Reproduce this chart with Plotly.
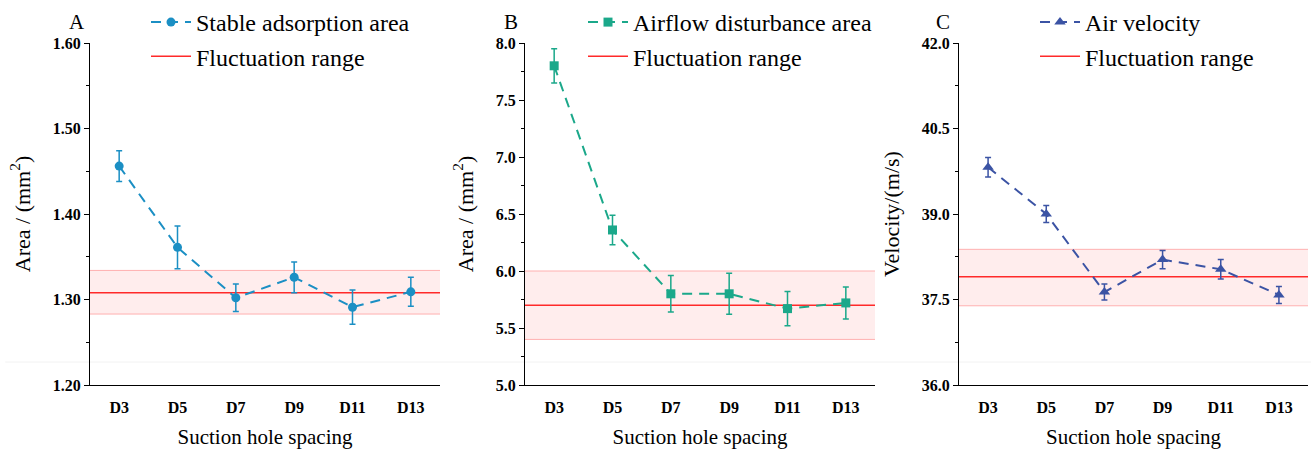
import plotly.graph_objects as go

categories = ["D3", "D5", "D7", "D9", "D11", "D13"]
x_pos = [0, 1, 2, 3, 4, 5]

stable_area = [1.456, 1.361, 1.302, 1.326, 1.291, 1.309]
stable_err = [0.018, 0.025, 0.016, 0.018, 0.020, 0.017]
stable_band = [1.283, 1.308, 1.334]  # low, mean, high

airflow_area = [7.80, 6.36, 5.80, 5.80, 5.67, 5.72]
airflow_err = [0.15, 0.13, 0.16, 0.18, 0.15, 0.14]
airflow_band = [5.40, 5.70, 6.00]

velocity = [39.82, 39.00, 37.63, 38.20, 38.03, 37.58]
velocity_err = [0.17, 0.15, 0.14, 0.16, 0.17, 0.15]
velocity_band = [37.39, 37.90, 38.38]

W, H = 1311, 454
FONT = "'Times New Roman', 'Liberation Serif', serif"

panels = [
    dict(name="Stable adsorption area", y=stable_area, e=stable_err, band=stable_band,
         color="#1b8fc4", symbol="circle", msize=9, x0=90, x1=440,
         yr=[1.2, 1.6], dtick=0.1, minor=0.05, fmt=".2f",
         ytitle="Area / (mm<sup>2</sup>)", letter="A", lx=77, legx=146),
    dict(name="Airflow disturbance area", y=airflow_area, e=airflow_err, band=airflow_band,
         color="#1ba88a", symbol="square", msize=9, x0=525, x1=875,
         yr=[5.0, 8.0], dtick=0.5, minor=0.25, fmt=".1f",
         ytitle="Area / (mm<sup>2</sup>)", letter="B", lx=511, legx=583),
    dict(name="Air velocity", y=velocity, e=velocity_err, band=velocity_band,
         color="#3b53a4", symbol="triangle-up", msize=10, x0=959, x1=1308,
         yr=[36.0, 42.0], dtick=1.5, minor=0.75, fmt=".1f",
         ytitle="Velocity/(m/s)", letter="C", lx=943, legx=1035),
]

fig = go.Figure()
y_top, y_bot = 43, 385
annotations = []
shapes = [dict(type="line", xref="paper", yref="paper", x0=0.004, x1=1, y0=(H - 362) / H,
               y1=(H - 362) / H, line=dict(color="#f2f2f2", width=1), layer="below")]
for i, p in enumerate(panels):
    n = "" if i == 0 else str(i + 1)
    xa, ya = "x" + n, "y" + n
    leg = "legend" + n
    lo, mid, hi = p["band"]
    # fluctuation band (in data coordinates of the panel)
    shapes.append(dict(type="rect", xref=xa, yref=ya, x0=-0.5, x1=5.5, y0=lo, y1=hi,
                       fillcolor="rgba(255,0,0,0.07)", line=dict(width=0), layer="below"))
    for yy in (lo, hi):
        shapes.append(dict(type="line", xref=xa, yref=ya, x0=-0.5, x1=5.5, y0=yy, y1=yy,
                           line=dict(color="#ffb0b0", width=1), layer="below"))
    shapes.append(dict(type="line", xref=xa, yref=ya, x0=-0.5, x1=5.5, y0=mid, y1=mid,
                       line=dict(color="#ff2a2a", width=1.5), layer="below",
                       showlegend=True, name="Fluctuation range", legend=leg))
    fig.add_trace(go.Scatter(x=x_pos, y=p["y"], mode="lines+markers", xaxis=xa, yaxis=ya,
                             name=p["name"], legend=leg,
                             line=dict(color=p["color"], width=2, dash="10px,7px"),
                             marker=dict(color=p["color"], symbol=p["symbol"], size=p["msize"]),
                             error_y=dict(type="data", array=p["e"], color=p["color"],
                                          thickness=1.5, width=3)))
    fig.layout["xaxis" + n] = dict(
        domain=[p["x0"] / W, p["x1"] / W], anchor=ya, range=[-0.5, 5.5],
        tickvals=x_pos, ticktext=categories, showline=True, linecolor="black", linewidth=1,
        ticks="outside", ticklen=8, tickcolor="rgba(0,0,0,0)", showgrid=False, zeroline=False,
        tickfont=dict(family=FONT, size=16, color="black", weight="bold"),
        title=dict(text="Suction hole spacing", font=dict(family=FONT, size=21, color="black"),
                   standoff=14),
        automargin=False)
    fig.layout["yaxis" + n] = dict(
        domain=[(H - y_bot) / H, (H - y_top) / H], anchor=xa, range=p["yr"],
        dtick=p["dtick"], tick0=p["yr"][0], tickformat=p["fmt"], showline=True,
        linecolor="black", linewidth=1, ticks="outside", ticklen=5, tickwidth=1,
        tickcolor="black", showgrid=False, zeroline=False,
        minor=dict(dtick=p["minor"], ticks="outside", ticklen=3, tickcolor="black", showgrid=False),
        tickfont=dict(family=FONT, size=16, color="black", weight="bold"),
        title=dict(text=p["ytitle"], font=dict(family=FONT, size=22, color="black"), standoff=16),
        automargin=False)
    fig.layout[leg] = dict(x=p["legx"] / W, y=1.0, xanchor="left", yanchor="top",
                           bgcolor="rgba(0,0,0,0)", font=dict(family=FONT, size=24, color="black"),
                           itemwidth=40, tracegroupgap=0, traceorder="normal")
    annotations.append(dict(text=p["letter"], x=p["lx"] / W, y=(H - 22) / H, xref="paper",
                            yref="paper", showarrow=False, xanchor="center", yanchor="middle",
                            font=dict(family=FONT, size=21, color="black")))

fig.update_layout(
    width=W, height=H, margin=dict(l=0, r=0, t=0, b=0),
    paper_bgcolor="white", plot_bgcolor="rgba(0,0,0,0)",
    annotations=annotations, shapes=shapes,
)

fig.write_html("out.html")
